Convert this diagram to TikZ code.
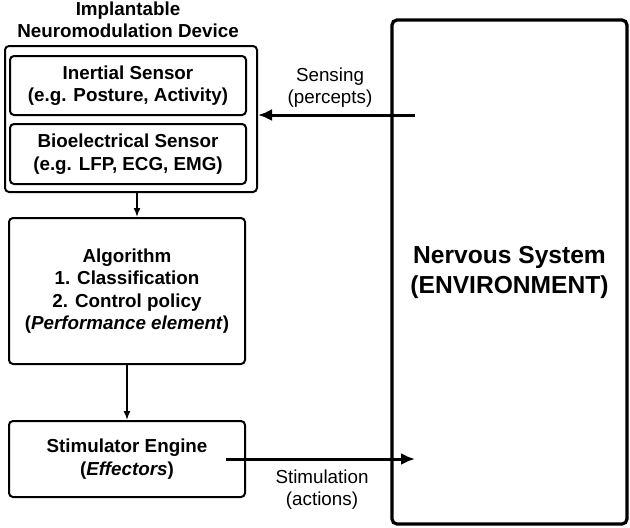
\documentclass[tikz,border=0pt]{standalone}
\usepackage{fontspec}
\setmainfont{Liberation Sans}
\usetikzlibrary{arrows.meta}

\begin{document}
\begin{tikzpicture}
            [x=1pt, y=-1pt,
            box/.style={draw, line width=2pt, rounded corners=4pt, align=center, inner sep=0pt,
                font=\fontsize{18.8}{22.5}\selectfont\bfseries},
            envbox/.style={draw, line width=3.2pt, rounded corners=5pt, align=center, inner sep=0pt,
                font=\fontsize{24.6}{30}\selectfont\bfseries},
            label/.style={align=center, font=\fontsize{18.8}{21.5}\selectfont},
            thinarrow/.style={line width=1.6pt, -{Latex[length=9pt, width=7pt]}},
            bigarrow/.style={line width=3pt, -{Latex[length=14pt, width=12pt]}}]

            \useasboundingbox (0,0) rectangle (630,528);

            % Device and its sensors
            \node[label, font=\fontsize{18.8}{22}\selectfont\bfseries] (title) at (128,19.5) {Implantable\\Neuromodulation Device};
            \node[box, minimum width=252pt, minimum height=146pt] (device) at (131,119) {};
            \node[box, minimum width=236pt, minimum height=59pt] (inertial) at (128,85.5) {Inertial Sensor\\(e.g. Posture, Activity)};
            \node[box, minimum width=236pt, minimum height=60pt] (bio) at (128,154) {Bioelectrical Sensor\\(e.g. LFP, ECG, EMG)};

            \node[box, minimum width=236pt, minimum height=146pt] (algo) at (127,291) {Algorithm\\1. Classification\\2. Control policy\\(\textit{Performance element})};
            \node[box, minimum width=236pt, minimum height=76pt] (stim) at (127,459) {Stimulator Engine\\(\textit{Effectors})};

            % Environment
            \node[envbox, minimum width=235pt, minimum height=504pt] (env) at (509.5,272) {Nervous System\\(ENVIRONMENT)};

            \coordinate (senseIn) at (415,115);
            \coordinate (stimOut) at (226,459);

            \draw[thinarrow] ([xshift=6pt]device.south) -- ([xshift=10pt]algo.north);
            \draw[thinarrow] (algo.south) -- (stim.north);
            \draw[bigarrow] (senseIn) -- (senseIn -| device.east);
            \draw[bigarrow] (stimOut) -- (stimOut -| senseIn);

            % Labels for the arrows
            \node[label] (sensing) at (330,87.5) {Sensing\\(percepts)};
            \node[label] (stimulation) at (322,489.5) {Stimulation\\(actions)};

        \end{tikzpicture}
\end{document}
